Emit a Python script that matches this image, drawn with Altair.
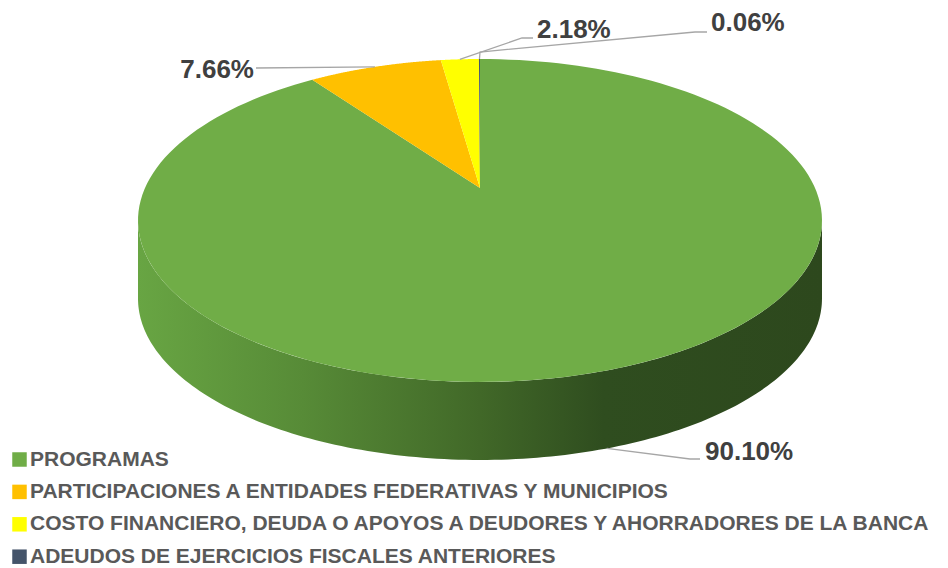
import numpy as np
import pandas as pd
import altair as alt

# ---------------- data ----------------
categories = [
    "PROGRAMAS",
    "PARTICIPACIONES A ENTIDADES FEDERATIVAS Y MUNICIPIOS",
    "COSTO FINANCIERO, DEUDA O APOYOS A DEUDORES Y AHORRADORES DE LA BANCA",
    "ADEUDOS DE EJERCICIOS FISCALES ANTERIORES",
]
values = [90.10, 7.66, 2.18, 0.06]
colors = ["#70AD47", "#FFC000", "#FFFF00", "#44546A"]

# ---------------- layout ----------------
W, H = 948, 568
CX, R = 480, 335                      # pie centre x, radius
PC, PA, PB = 0.2012, -117.1, 188.0    # perspective of the tilted disc
DEPTH = 78                            # thickness of the 3-D disc
N = 160

# leader-line bends and label placements (layout only)
label_bends = [[(690, 459), (700, 459)],
               [(256, 68)],
               [(522, 38), (533, 38)],
               [(480, 52), (695, 32), (707, 32)]]
label_pos = [(705, 452, "left"), (254, 70, "right"), (537, 30, "left"), (711, 23, "left")]


def proj(a):
    u, v = np.sin(a), np.cos(a)
    return CX + R * u / (1 + PC * v), (PA * v + PB) / (1 + PC * v)


total = sum(values)
cum = np.cumsum([0] + values)

# top faces of the slices
rows = []
for k, (c, v) in enumerate(zip(categories, values)):
    a0 = 2 * np.pi * cum[k] / total
    a1 = 2 * np.pi * cum[k + 1] / total
    rows.append({"cat": c, "o": 0, "x": CX, "y": PB})
    for i in range(N + 1):
        a = a0 + (a1 - a0) * i / N
        x, y = proj(a)
        rows.append({"cat": c, "o": i + 1, "x": x, "y": y})
slices = pd.DataFrame(rows)

# front wall of the disc (lies inside the first slice)
t0 = np.arccos(-PC)
t1 = 2 * np.pi - t0
srows = []
for i in range(N + 1):
    a = t0 + (t1 - t0) * i / N
    x, y = proj(a)
    srows.append({"o": i, "x": x, "y": y})
for i in range(N + 1):
    a = t1 - (t1 - t0) * i / N
    x, y = proj(a)
    srows.append({"o": N + 1 + i, "x": x, "y": y + DEPTH})
side = pd.DataFrame(srows)

# labels and leader lines
lrows, trows = [], []
for k, (c, v) in enumerate(zip(categories, values)):
    am = 2 * np.pi * (cum[k] + v / 2) / total
    x, y = proj(am)
    if np.cos(am) < 0:
        y += DEPTH
    pts = [(x, y)] + label_bends[k]
    for j, (px, py) in enumerate(pts):
        lrows.append({"lab": c, "o": j, "x": px, "y": py})
    tx, ty, al = label_pos[k]
    trows.append({"t": f"{v:.2f}%", "x": tx, "y": ty, "al": al})
leaders = pd.DataFrame(lrows)
texts = pd.DataFrame(trows)

xs = alt.Scale(domain=[0, W], nice=False, zero=False)
ys = alt.Scale(domain=[0, H], reverse=True, nice=False, zero=False)
X = alt.X("x:Q", scale=xs, axis=None)
Y = alt.Y("y:Q", scale=ys, axis=None)

grad = alt.Gradient(
    gradient="linear", x1=0, x2=1, y1=0, y2=0,
    stops=[alt.GradientStop(offset=0, color="#68A543"),
           alt.GradientStop(offset=0.24, color="#578B37"),
           alt.GradientStop(offset=0.5, color="#416828"),
           alt.GradientStop(offset=0.68, color="#2F4D1F"),
           alt.GradientStop(offset=1, color="#2D481D")])

wall = alt.Chart(side).mark_line(
    interpolate="linear-closed", filled=True, fill=grad, strokeWidth=0
).encode(x=X, y=Y, order="o:Q")

tops = alt.Chart(slices).mark_line(
    interpolate="linear-closed", filled=True, strokeWidth=0
).encode(
    x=X, y=Y, order="o:Q",
    color=alt.Color(
        "cat:N",
        scale=alt.Scale(domain=categories, range=colors),
        legend=alt.Legend(
            title=None, orient="none", legendX=9, legendY=449,
            direction="vertical", symbolType="square", symbolSize=210,
            symbolStrokeWidth=0,
            labelFont="Liberation Sans", labelFontSize=21, labelFontWeight=700,
            labelColor="#595959", labelLimit=2000, rowPadding=10.4, labelOffset=0,
            padding=0,
        ),
    ),
)

lines = alt.Chart(leaders).mark_line(color="#A6A6A6", strokeWidth=1.3).encode(
    x=X, y=Y, order="o:Q", detail="lab:N"
)

lab_left = alt.Chart(texts).transform_filter("datum.al == 'left'").mark_text(
    align="left", baseline="middle", font="Liberation Sans", fontSize=26,
    fontWeight="bold", color="#404040"
).encode(x=X, y=Y, text="t:N")
lab_right = alt.Chart(texts).transform_filter("datum.al == 'right'").mark_text(
    align="right", baseline="middle", font="Liberation Sans", fontSize=26,
    fontWeight="bold", color="#404040"
).encode(x=X, y=Y, text="t:N")

chart = alt.layer(wall, tops, lines, lab_left, lab_right).properties(
    width=W, height=H, autosize="none", padding=0, background="white"
).configure_view(strokeWidth=0).configure_legend(labelFontWeight="bold")

chart.save("out.html", embed_options={"renderer": "svg", "actions": False})
